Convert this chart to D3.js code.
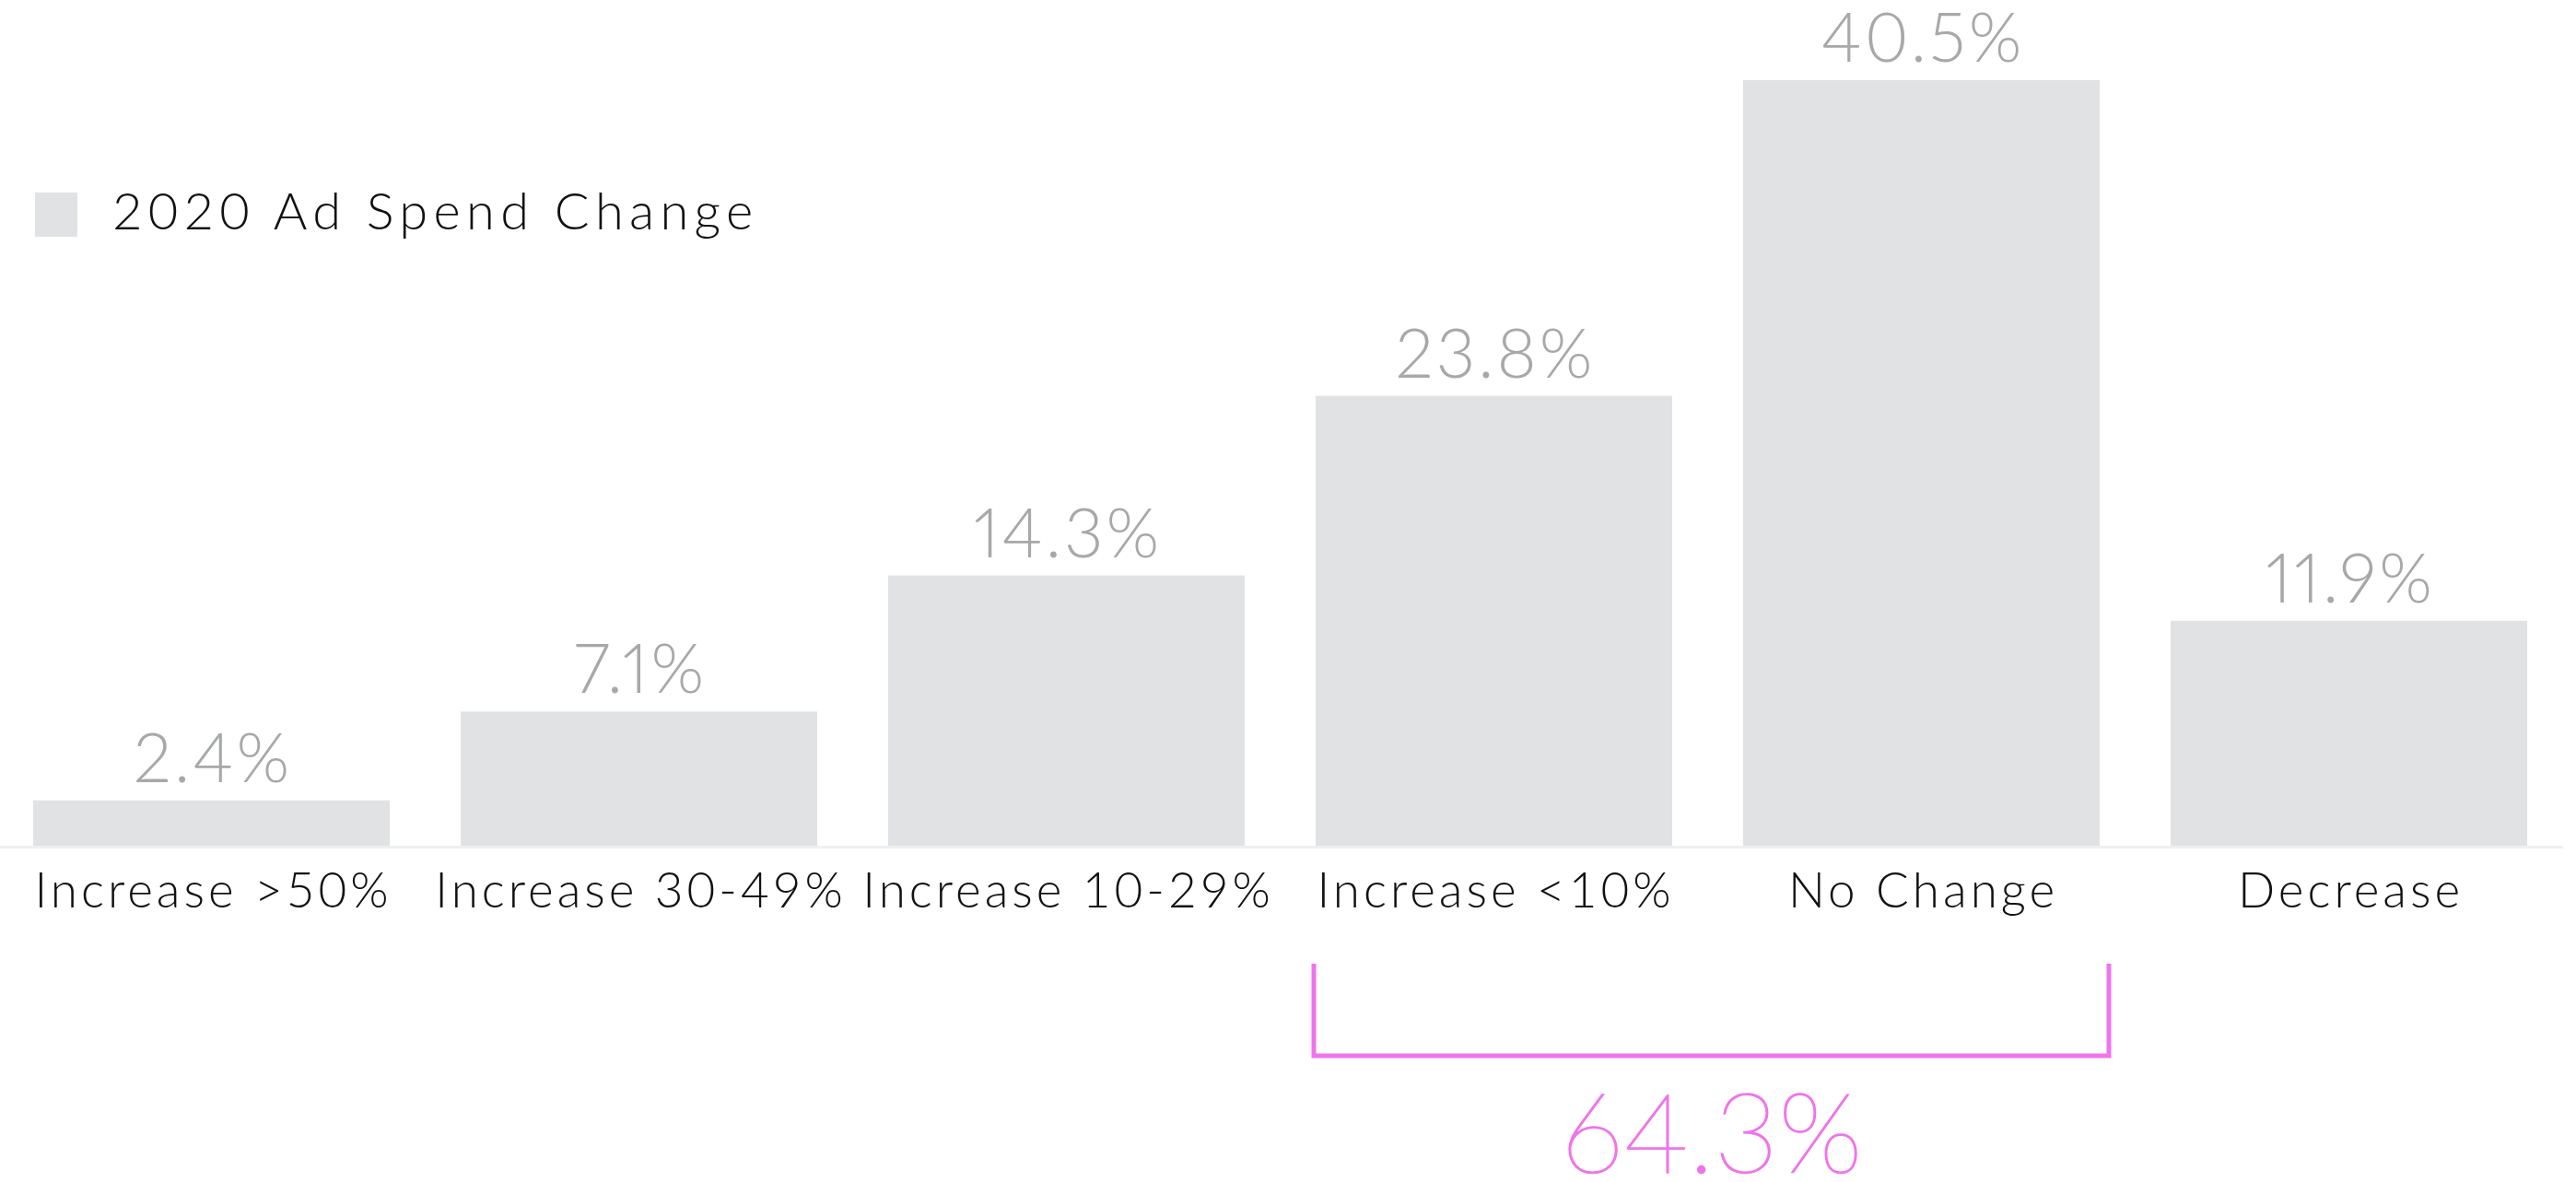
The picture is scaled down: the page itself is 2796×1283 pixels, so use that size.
<!DOCTYPE html>
<html>
<head>
<meta charset="utf-8">
<script src="https://cdn.jsdelivr.net/npm/d3@7"></script>
<style>
  html, body { margin: 0; padding: 0; background: #ffffff; }
  svg { display: block; }
</style>
</head>
<body>
<svg id="chart" width="2796" height="1283"></svg>
<script>
// Survey answers: planned change in 2020 ad spend
const categories = ["Increase >50%", "Increase 30-49%", "Increase 10-29%", "Increase <10%", "No Change", "Decrease"];
const shares = [2.4, 7.1, 14.3, 23.8, 40.5, 11.9];
const seriesName = "2020 Ad Spend Change";
// Categories summed under the bracket
const bracketed = ["Increase <10%", "No Change"];

const W = 2796, H = 1283;
const baseline = 918;
const fontFamily = "Lato, 'Open Sans', 'Noto Sans', sans-serif";

const svg = d3.select("#chart");

const x = d3.scaleBand()
  .domain(categories)
  .range([-2.5, 2781.5])
  .paddingInner(0.166)
  .paddingOuter(0.083);

const y = d3.scaleLinear()
  .domain([0, 40.5])
  .range([baseline, 87]);

const data = categories.map((c, i) => ({ category: c, value: shares[i] }));

// Bars
svg.append("g")
  .selectAll("rect")
  .data(data)
  .join("rect")
  .attr("x", d => x(d.category))
  .attr("y", d => y(d.value))
  .attr("width", x.bandwidth())
  .attr("height", d => y(0) - y(d.value))
  .attr("fill", "#e1e2e4");

// Baseline axis with category labels
const labelSpacing = 4;
const xAxis = d3.axisBottom(x).tickSize(0).tickPadding(0);
const axisG = svg.append("g")
  .attr("transform", `translate(0,${baseline})`)
  .call(xAxis);
axisG.select(".domain")
  .attr("d", `M0,1.5H${W - 14}`)
  .attr("stroke", "#eff1f1")
  .attr("stroke-width", 3);
axisG.selectAll(".tick text")
  .attr("x", labelSpacing / 2)
  .attr("y", 67)
  .attr("dy", 0)
  .attr("fill", "#111111")
  .style("font-family", fontFamily)
  .style("font-weight", 300)
  .style("font-size", "53px")
  .style("letter-spacing", labelSpacing + "px");

// Value labels above bars
const valueSpacing = 3;
svg.append("g")
  .selectAll("text")
  .data(data)
  .join("text")
  .attr("x", d => x(d.category) + x.bandwidth() / 2 + valueSpacing / 2)
  .attr("y", d => y(d.value) - 20)
  .attr("text-anchor", "middle")
  .attr("fill", "#a7a9a9")
  .style("font-family", fontFamily)
  .style("font-weight", 300)
  .style("font-size", "74px")
  .style("font-feature-settings", "'pnum' 1")
  .style("letter-spacing", valueSpacing + "px")
  .text(d => d.value.toFixed(1) + "%");

// Legend
const legend = svg.append("g").attr("transform", "translate(38,209)");
legend.append("rect")
  .attr("width", 46)
  .attr("height", 48)
  .attr("fill", "#e1e2e4");
legend.append("text")
  .attr("x", 84)
  .attr("y", 40)
  .attr("fill", "#111111")
  .style("font-family", fontFamily)
  .style("font-weight", 300)
  .style("font-size", "56px")
  .style("letter-spacing", "6.3px")
  .text(seriesName);

// Bracket grouping the "Increase <10%" and "No Change" answers
const bLeft = x(bracketed[0]) - 2;
const bRight = x(bracketed[1]) + x.bandwidth() + 10;
const bTop = 1046, bBottom = 1146;
svg.append("path")
  .attr("d", `M${bLeft},${bTop}V${bBottom}H${bRight}V${bTop}`)
  .attr("fill", "none")
  .attr("stroke", "#ef74ec")
  .attr("stroke-width", 5);

const bracketTotal = d3.sum(data.filter(d => bracketed.includes(d.category)), d => d.value);
svg.append("text")
  .attr("x", (bLeft + bRight) / 2)
  .attr("y", 1273)
  .attr("text-anchor", "middle")
  .attr("fill", "#ef74ec")
  .attr("stroke", "#ef74ec")
  .attr("stroke-width", 1.6)
  .style("font-family", fontFamily)
  .style("font-weight", 100)
  .style("font-size", "120px")
  .text(bracketTotal.toFixed(1) + "%");
</script>
</body>
</html>
